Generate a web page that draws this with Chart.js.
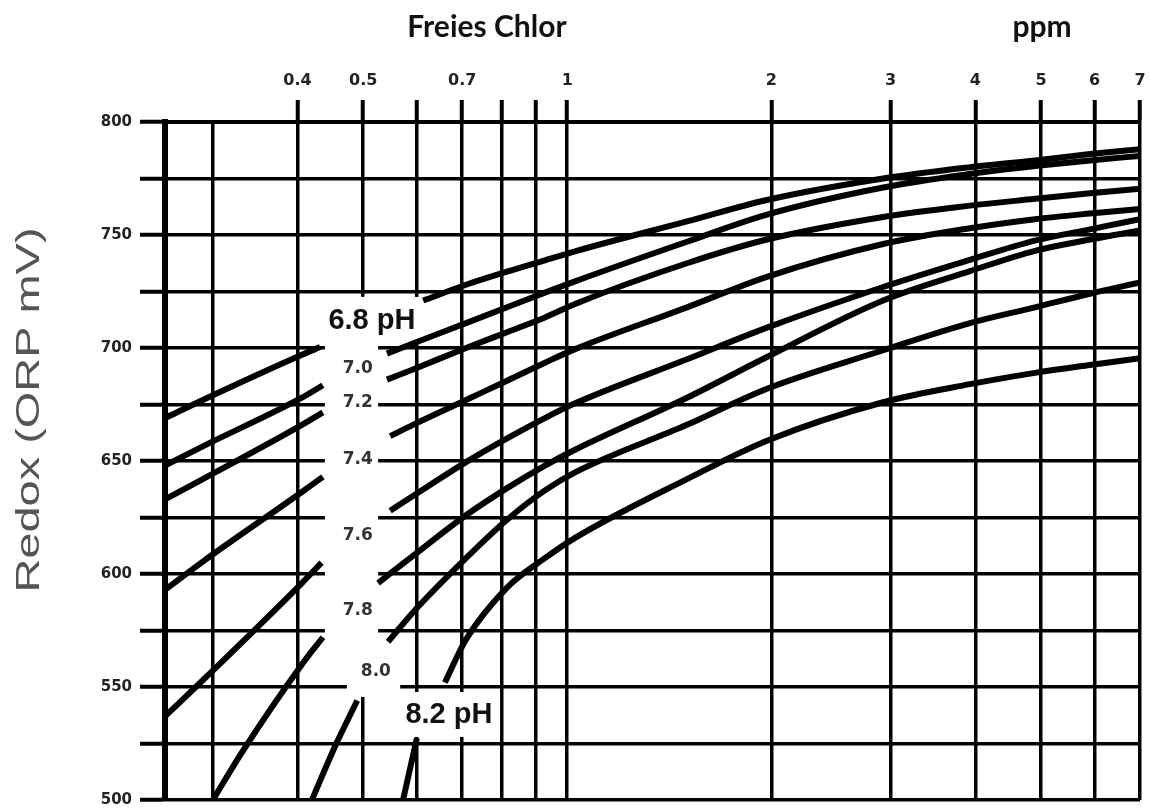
<!DOCTYPE html>
<html>
<head>
<meta charset="utf-8">
<title>Redox / Freies Chlor</title>
<script src="https://cdn.jsdelivr.net/npm/chart.js@4/dist/chart.umd.min.js"></script>
<style>
  body { margin: 0; background: #fff; }
  canvas { display: block; }
</style>
</head>
<body>
<canvas id="chart" width="1150" height="808"></canvas>
<script>
const xGridValues = [0.3, 0.4, 0.5, 0.6, 0.7, 0.8, 0.9, 1, 2, 3, 4, 5, 6, 7];
const xTickLabels = [0.4, 0.5, 0.7, 1, 2, 3, 4, 5, 6, 7];

const phNames = ["6.8", "7.0", "7.2", "7.4", "7.6", "7.8", "8.0", "8.2"];

const ph68Ppm = [0.255, 0.29, 0.406, 0.432, 0.5, 0.613, 0.709, 0.815, 0.927, 1.027, 1.502, 1.971, 2.925, 3.928, 4.899, 5.906, 7];
const ph68Mv = [669, 677, 697, 700.4, null, 721, 728, 733.8, 738.8, 742.8, 756, 765.5, 775, 780, 783, 785.8, 788];

const ph70Ppm = [0.255, 0.29, 0.406, 0.436, 0.5, 0.542, 0.592, 0.709, 0.815, 0.927, 1.027, 1.502, 1.971, 2.925, 3.928, 4.899, 5.906, 7];
const ph70Mv = [648, 656.5, 678, 683.5, null, 697.5, 702, 711, 718, 724.5, 729.5, 747, 759, 771, 777, 780.5, 783, 785];

const ph72Ppm = [0.255, 0.29, 0.406, 0.436, 0.5, 0.542, 0.592, 0.709, 0.815, 0.927, 1.027, 1.502, 1.971, 2.925, 3.928, 4.899, 5.906, 7];
const ph72Mv = [633, 642, 666, 671.5, null, 686, 690.5, 700, 707, 713.5, 719.5, 737.5, 748, 758, 763, 766, 768.5, 770.5];

const ph74Ppm = [0.255, 0.29, 0.406, 0.436, 0.5, 0.548, 0.592, 0.709, 0.815, 0.927, 1.027, 1.502, 1.971, 2.925, 3.928, 4.899, 5.906, 7];
const ph74Mv = [593, 605.5, 636.3, 643, null, 661, 666, 677, 685.5, 693.5, 699.5, 718, 731.5, 746, 753, 757, 759.5, 761.5];

const ph76Ppm = [0.255, 0.29, 0.406, 0.434, 0.5, 0.548, 0.592, 0.709, 0.815, 0.927, 1.027, 1.502, 1.971, 2.925, 3.928, 4.899, 5.906, 7];
const ph76Mv = [537, 553, 596, 605, null, 628, 634.5, 649.5, 660, 669, 675.5, 695, 709, 727, 739, 747.5, 752.5, 757];

const ph78Ppm = [0.3, 0.331, 0.406, 0.436, 0.5, 0.526, 0.592, 0.709, 0.815, 0.927, 1.027, 1.502, 1.971, 2.925, 3.928, 4.899, 5.906, 7];
const ph78Mv = [500, 521, 560, 572, null, 596, 608, 626, 638, 648, 655, 678, 696, 721, 734, 743, 748, 752];

const ph80Ppm = [0.42, 0.454, 0.49, 0.52, 0.544, 0.592, 0.709, 0.815, 0.927, 1.027, 1.502, 1.971, 2.925, 3.928, 4.899, 5.906, 7];
const ph80Mv = [500, 523.5, 544, null, 570, 583, 607, 624, 637, 645, 666, 682, 699, 711, 718, 724, 729];

const ph82Ppm = [0.5725, 0.6, 0.63, 0.66, 0.709, 0.815, 0.927, 1.027, 1.502, 1.971, 2.925, 3.928, 4.899, 5.906, 7];
const ph82Mv = [500, 527.4, null, 552, 571, 594, 607, 616, 642, 659, 676, 684, 689, 692.5, 695.5];

// curve labels in the white gap (ppm, mV)
const labelText = ["6.8 pH", "7.0", "7.2", "7.4", "7.6", "7.8", "8.0", "8.2 pH"];
const labelPpm = [0.515, 0.491, 0.491, 0.491, 0.491, 0.491, 0.522, 0.669];
const labelMv = [712, 691, 676, 650.5, 617, 584, 557, 537.6];

// white boxes that cut the grid behind the labels: [ppm from, ppm to, mV top, mV bottom]
const gapBoxes = [
  [0.439, 0.526, 722.6, 562],
  [0.432, 0.606, 722.6, 703.5],
  [0.473, 0.567, 564, 545.6],
  [0.563, 0.796, 547.8, 527.9],
];

function toPoints(ppm, mv) {
  return ppm.map((p, i) => ({ x: p, y: mv[i] }));
}

const series = [
  toPoints(ph68Ppm, ph68Mv),
  toPoints(ph70Ppm, ph70Mv),
  toPoints(ph72Ppm, ph72Mv),
  toPoints(ph74Ppm, ph74Mv),
  toPoints(ph76Ppm, ph76Mv),
  toPoints(ph78Ppm, ph78Mv),
  toPoints(ph80Ppm, ph80Mv),
  toPoints(ph82Ppm, ph82Mv),
];

const gapLabels = {
  id: "gapLabels",
  beforeDatasetsDraw(chart) {
    const ctx = chart.ctx;
    const x = chart.scales.x;
    const y = chart.scales.y;
    ctx.save();
    ctx.fillStyle = "#fff";
    gapBoxes.forEach((b) => {
      const x1 = x.getPixelForValue(b[0]);
      const x2 = x.getPixelForValue(b[1]);
      const y1 = y.getPixelForValue(b[2]);
      const y2 = y.getPixelForValue(b[3]);
      ctx.fillRect(x1, y1, x2 - x1, y2 - y1);
    });
    ctx.textAlign = "center";
    ctx.textBaseline = "middle";
    labelText.forEach((t, i) => {
      const big = t.indexOf("pH") > 0;
      ctx.font = big ? "bold 29px 'Liberation Sans'" : "bold 17px 'DejaVu Sans'";
      ctx.fillStyle = big ? "#111" : "#333";
      ctx.fillText(t, x.getPixelForValue(labelPpm[i]), y.getPixelForValue(labelMv[i]));
    });
    ctx.restore();
  },
  afterDraw(chart) {
    const ctx = chart.ctx;
    ctx.save();
    ctx.fillStyle = "#111";
    ctx.textAlign = "center";
    ctx.textBaseline = "middle";
    ctx.font = "bold 30px Lato";
    ctx.fillText("Freies Chlor", 487, 27);
    ctx.fillText("ppm", 1042, 27);
    ctx.translate(30, 410);
    ctx.rotate(-Math.PI / 2);
    ctx.scale(1.38, 1);
    ctx.fillStyle = "#555";
    ctx.font = "34px 'Liberation Sans'";
    ctx.fillText("Redox (ORP mV)", 0, 0);
    ctx.restore();
  },
};

new Chart(document.getElementById("chart"), {
  type: "line",
  data: {
    datasets: series.map((pts, i) => ({
      label: phNames[i] + " pH",
      data: pts,
      borderColor: "#000",
      borderWidth: 6,
      pointRadius: 0,
      spanGaps: false,
      cubicInterpolationMode: "monotone",
    })),
  },
  options: {
    responsive: false,
    animation: false,
    devicePixelRatio: 1,
    layout: { padding: { left: 0, right: 10, top: 0, bottom: 8 } },
    plugins: {
      legend: { display: false },
      tooltip: { enabled: false },
    },
    scales: {
      x: {
        type: "logarithmic",
        position: "top",
        min: 0.255,
        max: 7,
        afterBuildTicks: (scale) => {
          scale.ticks = xGridValues.map((v) => ({ value: v }));
        },
        afterFit: (scale) => {
          scale.height = 122;
          scale.paddingLeft = 0;
          scale.paddingRight = 0;
        },
        ticks: {
          autoSkip: false,
          maxRotation: 0,
          padding: 10,
          color: "#222",
          font: { family: "DejaVu Sans", weight: "bold", size: 16 },
          callback: (v) => (xTickLabels.includes(v) ? String(v) : ""),
        },
        grid: {
          color: "#000",
          lineWidth: 3.5,
          tickLength: 22,
          tickWidth: 4,
          tickColor: (c) => (c.tick && c.tick.value === 0.3 ? "rgba(0,0,0,0)" : "#000"),
        },
        border: { color: "#000", width: 4 },
      },
      y: {
        min: 500,
        max: 800,
        afterFit: (scale) => {
          scale.width = 165;
          scale.paddingTop = 0;
          scale.paddingBottom = 0;
        },
        ticks: {
          stepSize: 25,
          padding: 8,
          color: "#222",
          font: { family: "DejaVu Sans", weight: "bold", size: 15 },
          callback: (v) => (v % 50 === 0 ? String(v) : ""),
        },
        grid: {
          color: "#000",
          lineWidth: 3.5,
          tickLength: 25,
          tickWidth: 4,
        },
        border: { color: "#000", width: 6 },
      },
    },
  },
  plugins: [gapLabels],
});
</script>
</body>
</html>
